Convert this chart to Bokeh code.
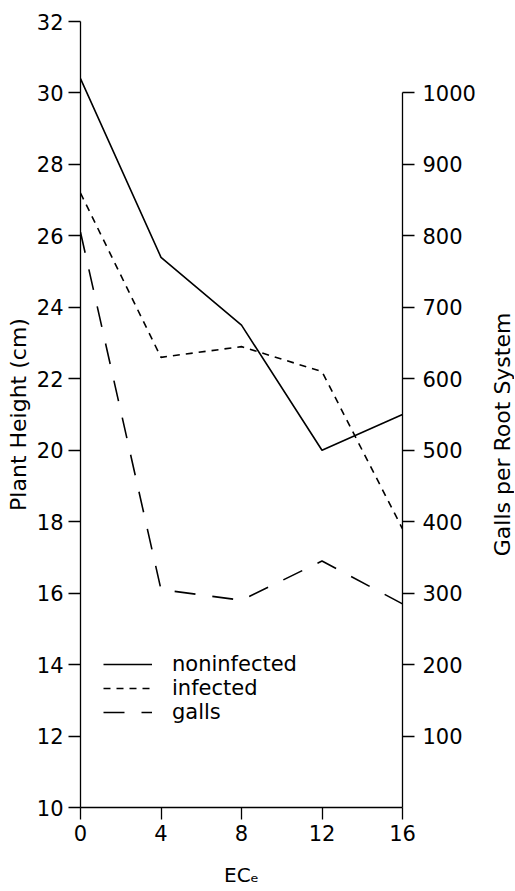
import math
from bokeh.plotting import figure
from bokeh.layouts import row
from bokeh.models import Range1d, LinearAxis, FixedTicker, Legend, LegendItem, Label
from bokeh.embed import file_html
from bokeh.resources import INLINE

ec = [0, 4, 8, 12, 16]
noninfected = [30.4, 25.4, 23.5, 20.0, 21.0]
infected = [27.2, 22.6, 22.9, 22.2, 17.8]
galls = [805, 305, 290, 345, 285]

left_ticks = [10, 12, 14, 16, 18, 20, 22, 24, 26, 28, 30, 32]
right_ticks = [100, 200, 300, 400, 500, 600, 700, 800, 900, 1000]
x_ticks = [0, 4, 8, 12, 16]

FONT = "DejaVu Sans"
H = 889

p = figure(width=489, height=H, output_backend="svg", toolbar_location=None,
           x_range=Range1d(0, 16), y_range=Range1d(10, 32),
           min_border_left=80, min_border_right=87, min_border_top=21, min_border_bottom=81)
p.extra_y_ranges = {"galls": Range1d(0, 1100)}
p.outline_line_color = None
p.xgrid.visible = False
p.ygrid.visible = False
p.background_fill_color = "white"

def style(ax):
    ax.axis_line_color = "black"
    ax.axis_line_width = 1.3
    ax.major_tick_line_color = "black"
    ax.major_tick_line_width = 1.3
    ax.major_tick_in = 0
    ax.major_tick_out = 12
    ax.minor_tick_line_color = None
    ax.major_label_text_font = FONT
    ax.major_label_text_font_size = "21px"
    ax.major_label_text_color = "black"
    ax.axis_label_text_font = FONT
    ax.axis_label_text_font_size = "20px"
    ax.axis_label_text_font_style = "normal"
    ax.axis_label_text_color = "black"

p.xaxis.ticker = FixedTicker(ticks=x_ticks)
p.xaxis.axis_label = "EC\u2091"
p.xaxis.major_label_standoff = 5
p.xaxis.axis_label_standoff = 19
style(p.xaxis[0])

p.yaxis.ticker = FixedTicker(ticks=left_ticks)
p.yaxis.axis_label = "Plant Height (cm)"
p.yaxis.major_label_standoff = 5
p.yaxis.axis_label_standoff = 3
style(p.yaxis[0])
p.yaxis.axis_label_text_font_size = "22px"

ra = LinearAxis(y_range_name="galls", ticker=FixedTicker(ticks=right_ticks),
                bounds=(0, 1000))
style(ra)
ra.major_label_standoff = 8
p.add_layout(ra, "right")

r1 = p.line(ec, noninfected, line_color="black", line_width=1.6)
r2 = p.line(ec, infected, line_color="black", line_width=1.6, line_dash="7 6")
r3 = p.line(ec, galls, line_color="black", line_width=1.6, line_dash="21 17",
            y_range_name="galls")

legend = Legend(items=[LegendItem(label="noninfected", renderers=[r1]),
                       LegendItem(label="infected", renderers=[r2]),
                       LegendItem(label="galls", renderers=[r3])],
                location=(23, 83), padding=0, margin=0, spacing=0,
                glyph_width=49, glyph_height=20, label_height=20, label_standoff=20,
                border_line_color=None, background_fill_alpha=0,
                label_text_font=FONT, label_text_font_size="21px", label_text_color="black")
p.add_layout(legend)

# narrow strip holding the right-hand axis title (reads bottom-to-top)
q = figure(width=25, height=H, output_backend="svg", toolbar_location=None,
           x_range=Range1d(0, 25), y_range=Range1d(0, H), min_border=0)
q.outline_line_color = None
q.axis.visible = False
q.grid.visible = False
q.add_layout(Label(x=12.5, y=422, text="Galls per Root System", angle=math.pi / 2,
                   text_align="center", text_baseline="middle",
                   text_font=FONT, text_font_size="22px", text_color="black"))

layout = row(p, q, spacing=0)
open("out.html", "w").write(file_html(layout, INLINE))
